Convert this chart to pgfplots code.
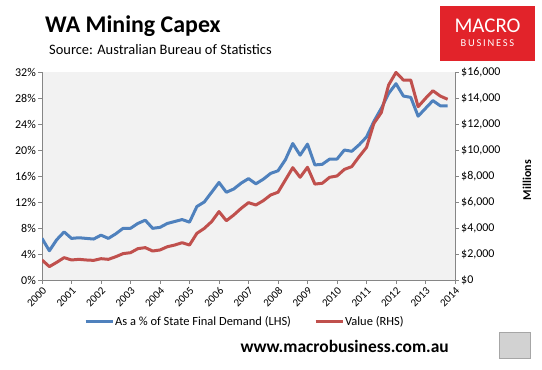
\documentclass[border=0pt]{standalone}
\usepackage{pgfplots}
\pgfplotsset{compat=1.18}
\usepackage{fontspec}
\setmainfont{Carlito}
\definecolor{cblue}{HTML}{4F81BD}
\definecolor{cred}{HTML}{C0504D}
\definecolor{axgray}{HTML}{868686}
\definecolor{bggray}{HTML}{F2F2F2}
\definecolor{logored}{HTML}{E2232A}
\pgfplotstableread{
x y
2000.00 6.4
2000.25 4.5
2000.50 6.2
2000.75 7.4
2001.00 6.4
2001.25 6.5
2001.50 6.4
2001.75 6.3
2002.00 6.9
2002.25 6.4
2002.50 7.1
2002.75 7.95
2003.00 7.95
2003.25 8.7
2003.50 9.2
2003.75 7.95
2004.00 8.1
2004.25 8.7
2004.50 9.0
2004.75 9.3
2005.00 8.9
2005.25 11.3
2005.50 12.0
2005.75 13.5
2006.00 15.0
2006.25 13.5
2006.50 14.0
2006.75 14.9
2007.00 15.6
2007.25 14.8
2007.50 15.5
2007.75 16.4
2008.00 16.8
2008.25 18.5
2008.50 21.0
2008.75 19.2
2009.00 20.9
2009.25 17.7
2009.50 17.8
2009.75 18.6
2010.00 18.6
2010.25 20.0
2010.50 19.8
2010.75 20.8
2011.00 22.0
2011.25 24.4
2011.50 26.4
2011.75 28.7
2012.00 30.2
2012.25 28.3
2012.50 28.1
2012.75 25.2
2013.00 26.4
2013.25 27.6
2013.50 26.8
2013.75 26.8
}\pct
\pgfplotstableread{
x y
2000.00 1540
2000.25 1030
2000.50 1360
2000.75 1720
2001.00 1540
2001.25 1590
2001.50 1540
2001.75 1510
2002.00 1640
2002.25 1590
2002.50 1790
2002.75 2030
2003.00 2100
2003.25 2410
2003.50 2490
2003.75 2230
2004.00 2310
2004.25 2560
2004.50 2690
2004.75 2870
2005.00 2690
2005.25 3590
2005.50 3970
2005.75 4490
2006.00 5260
2006.25 4560
2006.50 5000
2006.75 5510
2007.00 5950
2007.25 5770
2007.50 6100
2007.75 6540
2008.00 6750
2008.25 7690
2008.50 8640
2008.75 7900
2009.00 8670
2009.25 7380
2009.50 7440
2009.75 7900
2010.00 8000
2010.25 8510
2010.50 8720
2010.75 9490
2011.00 10200
2011.25 12050
2011.50 12870
2011.75 15000
2012.00 15970
2012.25 15380
2012.50 15380
2012.75 13330
2013.00 13970
2013.25 14560
2013.50 14150
2013.75 13900
}\val
\begin{document}
\begin{tikzpicture}
\useasboundingbox (0,0) rectangle (542bp,370bp);
\pgfplotsset{
  base/.style={
    at={(42bp,90bp)}, anchor=south west,
    width=413bp, height=208bp, scale only axis,
    xmin=2000, xmax=2014,
    tick align=outside,
    major tick length=4bp,
    every tick/.style={axgray, line width=0.75bp},
    axis line style={axgray, line width=0.9bp},
    tick label style={font=\fontsize{12}{14}\selectfont, text=black},
  }
}
\begin{axis}[base,
  axis background/.style={fill=bggray},
  axis x line*=bottom, axis y line*=left,
  ymin=0, ymax=32,
  ytick={0,4,...,32},
  yticklabels={0\%,4\%,8\%,12\%,16\%,20\%,24\%,28\%,32\%},
  xtick={2000,...,2014},
  xticklabels={2000,2001,2002,2003,2004,2005,2006,2007,2008,2009,2010,2011,2012,2013,2014},
  x tick label style={rotate=45, anchor=north east, inner sep=1.5bp, font=\fontsize{11}{12}\selectfont},
  y tick label style={inner sep=2bp},
]
\addplot[cblue, line width=3bp, line join=round] table[x=x,y=y] {\pct};
\end{axis}
\begin{axis}[base,
  axis x line=none, axis y line*=right,
  ymin=0, ymax=16000,
  scaled y ticks=false,
  ytick={0,2000,...,16000},
  yticklabels={\$0,{\$2,000},{\$4,000},{\$6,000},{\$8,000},{\$10,000},{\$12,000},{\$14,000},{\$16,000}},
  y tick label style={inner sep=2bp},
  ylabel={\bfseries Millions},
  ylabel style={at={(axis description cs:1.174,0.48)}, anchor=center, rotate=0, font=\fontsize{12}{14}\selectfont},
  legend style={at={(axis description cs:0.49,-0.2)}, anchor=center, legend columns=2,
    draw=none, fill=none, font=\fontsize{12.5}{14}\selectfont,
    /tikz/every even column/.append style={column sep=22bp},
    inner sep=0pt, nodes={inner sep=1pt}},
  legend image code/.code={\draw[#1, line width=3bp] (0bp,0bp) -- (27bp,0bp);},
]
\addlegendimage{cblue, line width=3bp}
\addlegendentry{As a \% of State Final Demand (LHS)}
\addplot[cred, line width=3bp, line join=round] table[x=x,y=y] {\val};
\addlegendentry{Value (RHS)}
\end{axis}
% titles
\node[anchor=base west, inner sep=0pt, font=\fontsize{24}{26}\selectfont\bfseries] at (45bp,337.5bp) {WA Mining Capex};
\node[anchor=base west, inner sep=0pt, font=\fontsize{14.5}{16}\selectfont] at (49bp,315bp) {Source: Australian Bureau of Statistics};
% logo
\fill[logored] (440bp,309bp) rectangle (535bp,364bp);
\node[anchor=base, inner sep=0pt, text=white, font=\fontsize{21}{22}\selectfont] at (487.5bp,337bp) {MACRO};
\node[anchor=base, inner sep=0pt, text=white, font=\fontsize{10.5}{12}\selectfont] at (487.5bp,323bp) {B\,U\,S\,I\,N\,E\,S\,S};
% footer
\node[anchor=base east, inner sep=0pt, font=\fontsize{17.5}{19}\selectfont\bfseries] at (449bp,17.5bp) {www.macrobusiness.com.au};
\filldraw[fill=gray!35, draw=gray!70, line width=0.6bp] (499bp,12bp) rectangle (530bp,38bp);
\end{tikzpicture}
\end{document}
